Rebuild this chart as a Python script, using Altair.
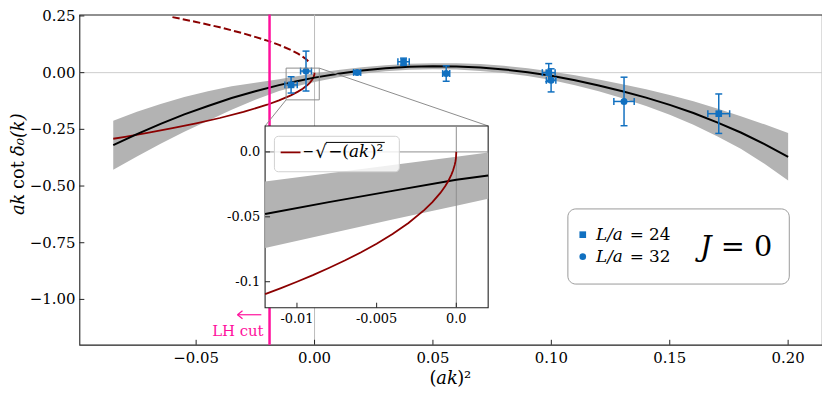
import altair as alt
import pandas as pd

# ---------------- data ----------------
# fit curve and its error band (main panel)
fit_x = [-0.085, -0.075, -0.065, -0.055, -0.045, -0.035, -0.025, -0.015, -0.0075, 0.0,
         0.01, 0.02, 0.03, 0.04, 0.05, 0.06, 0.07, 0.08, 0.09, 0.1,
         0.11, 0.12, 0.13, 0.14, 0.15, 0.16, 0.17, 0.18, 0.19, 0.2]
fit_y = [-0.320, -0.271, -0.226, -0.184, -0.147, -0.112, -0.082, -0.055, -0.0375, -0.022,
         -0.0046, 0.0093, 0.0193, 0.0258, 0.0285, 0.0274, 0.0227, 0.0143, 0.0022, -0.0136,
         -0.0332, -0.0563, -0.082, -0.110, -0.142, -0.178, -0.219, -0.264, -0.315, -0.371]
band_lo = [-0.428, -0.370, -0.314, -0.261, -0.212, -0.164, -0.120, -0.081, -0.0595, -0.041,
           -0.0206, -0.0047, 0.0063, 0.0128, 0.0155, 0.0134, 0.0077, -0.0017, -0.0148, -0.0326,
           -0.0552, -0.0823, -0.113, -0.147, -0.186, -0.230, -0.280, -0.336, -0.402, -0.476]
band_hi = [-0.212, -0.172, -0.138, -0.107, -0.082, -0.060, -0.044, -0.029, -0.0155, -0.003,
           0.0114, 0.0233, 0.0323, 0.0388, 0.0415, 0.0414, 0.0377, 0.0303, 0.0192, 0.0054,
           -0.0112, -0.0303, -0.051, -0.073, -0.098, -0.126, -0.158, -0.192, -0.228, -0.266]

# -sqrt(-(ak)^2) branch (solid) and +sqrt branch (dashed)
neg_x = [-0.085, -0.08, -0.07, -0.06, -0.05, -0.04, -0.03, -0.02, -0.015, -0.01,
         -0.007, -0.005, -0.003, -0.002, -0.001, -0.0005, -0.0002, -0.00005, 0.0]
neg_y = [-0.2915, -0.2828, -0.2646, -0.2449, -0.2236, -0.2, -0.1732, -0.1414, -0.1225, -0.1,
         -0.0837, -0.0707, -0.0548, -0.0447, -0.0316, -0.0224, -0.0141, -0.0071, 0.0]
pos_x = [-0.06, -0.05, -0.04, -0.03, -0.02, -0.015, -0.01, -0.007, -0.004, -0.0018]
pos_y = [0.2449, 0.2236, 0.2, 0.1732, 0.1414, 0.1225, 0.1, 0.0837, 0.0632, 0.0424]

# lattice points
pt_x = [-0.0099, -0.0036, 0.018, 0.0376, 0.0556, 0.0989, 0.0999, 0.1307, 0.1707]
pt_y = [-0.054, 0.007, 0.001, 0.048, -0.004, 0.0, -0.034, -0.127, -0.181]
pt_xerr = [0.0026, 0.0023, 0.0015, 0.0024, 0.0015, 0.0027, 0.002, 0.0043, 0.0046]
pt_yerr = [0.036, 0.088, 0.006, 0.016, 0.034, 0.040, 0.051, 0.107, 0.087]
pt_L = ["24", "32", "32", "24", "32", "24", "32", "32", "24"]

# inset panel
ins_x = [-0.012, -0.008, -0.004, 0.0, 0.002]
ins_fit = [-0.0479, -0.0387, -0.030, -0.0214, -0.0182]
ins_lo = [-0.074, -0.063, -0.052, -0.0415, -0.036]
ins_hi = [-0.0228, -0.0165, -0.0101, -0.0037, -0.0005]
ins_neg_x = [-0.012, -0.011, -0.01, -0.009, -0.008, -0.007, -0.006, -0.005, -0.004, -0.003,
             -0.002, -0.0015, -0.001, -0.0007, -0.0005, -0.0003, -0.0002, -0.0001, -0.00005,
             -0.00002, 0.0]
ins_neg_y = [-0.1095, -0.1049, -0.1, -0.0949, -0.0894, -0.0837, -0.0775, -0.0707, -0.0632, -0.0548,
             -0.0447, -0.0387, -0.0316, -0.0265, -0.0224, -0.0173, -0.0141, -0.01, -0.0071,
             -0.0045, 0.0]

lh_cut = -0.019
main_x_ticks = [-0.05, 0.0, 0.05, 0.10, 0.15, 0.20]
main_x_labels = ["−0.05", "0.00", "0.05", "0.10", "0.15", "0.20"]
main_y_ticks = [0.25, 0.0, -0.25, -0.5, -0.75, -1.0]
main_y_labels = ["0.25", "0.00", "−0.25", "−0.50", "−0.75", "−1.00"]
ins_x_ticks = [-0.01, -0.005, 0.0]
ins_x_labels = ["-0.01", "-0.005", "0.0"]
ins_y_ticks = [0.0, -0.05, -0.1]
ins_y_labels = ["0.0", "-0.05", "-0.1"]

# ---------------- styling / layout ----------------
BLUE = "#1170c0"
DARKRED = "#8b0000"
PINK = "#ff109c"
BAND = "#b3b3b3"
FONT = "DejaVu Serif"
W, H = 749, 333
PAD_TOP = 5


def vx(px):
    return px - 80


def vy(py):
    return (py - 5) * H / 341


xs = alt.Scale(domain=[-0.0993, 0.2143], nice=False, zero=False)
ys = alt.Scale(domain=[-1.2, 0.256], nice=False, zero=False)
IX0, IX1 = vx(267.3), vx(492.3)
IYB, IYT = vy(307.7), vy(120)
xi = alt.Scale(domain=[-0.012, 0.002], range=[IX0, IX1], nice=False, zero=False)
yi = alt.Scale(domain=[-0.12, 0.02], range=[IYB, IYT], nice=False, zero=False)

one = pd.DataFrame({"k": [0]})
fit_df = pd.DataFrame({"x": fit_x, "y": fit_y, "lo": band_lo, "hi": band_hi})
neg_df = pd.DataFrame({"x": neg_x, "y": neg_y})
pos_df = pd.DataFrame({"x": pos_x, "y": pos_y})
pts = pd.DataFrame({"x": pt_x, "y": pt_y, "xe": pt_xerr, "ye": pt_yerr, "L": pt_L})
pts["x_lo"] = pts["x"] - pts["xe"]
pts["x_hi"] = pts["x"] + pts["xe"]
pts["y_lo"] = pts["y"] - pts["ye"]
pts["y_hi"] = pts["y"] + pts["ye"]
ins_df = pd.DataFrame({"x": ins_x, "y": ins_fit, "lo": ins_lo, "hi": ins_hi})
ins_neg_df = pd.DataFrame({"x": ins_neg_x, "y": ins_neg_y})
mxt = pd.DataFrame({"t": main_x_ticks, "lab": main_x_labels})
myt = pd.DataFrame({"t": main_y_ticks, "lab": main_y_labels})
ixt = pd.DataFrame({"t": ins_x_ticks, "lab": ins_x_labels})
iyt = pd.DataFrame({"t": ins_y_ticks, "lab": ins_y_labels})


def MX(f):
    return alt.X(f, type="quantitative", scale=xs, axis=None)


def MY(f):
    return alt.Y(f, type="quantitative", scale=ys, axis=None)


def IX(f):
    return alt.X(f, type="quantitative", scale=xi, axis=None)


def IY(f):
    return alt.Y(f, type="quantitative", scale=yi, axis=None)


def MXD(v):
    return alt.XDatum(v, type="quantitative", scale=xs, axis=None)


def MYD(v):
    return alt.YDatum(v, type="quantitative", scale=ys, axis=None)


def IXD(v):
    return alt.XDatum(v, type="quantitative", scale=xi, axis=None)


def IYD(v):
    return alt.YDatum(v, type="quantitative", scale=yi, axis=None)


def txt(s, px, py, size, style="normal", color="black", align="left", angle=0):
    return alt.Chart(one).mark_text(text=s, font=FONT, fontSize=size, fontStyle=style, color=color,
                                    align=align, baseline="middle", angle=angle).encode(
        x=alt.value(vx(px)), y=alt.value(vy(py)))


# ---------------- main panel ----------------
zero_v = alt.Chart(one).mark_rule(color="#bbbbbb", strokeWidth=1).encode(x=MXD(0))
zero_h = alt.Chart(one).mark_rule(color="#cccccc", strokeWidth=1).encode(y=MYD(0))
band = alt.Chart(fit_df).mark_area(color=BAND, opacity=1).encode(x=MX("x"), y=MY("lo"), y2="hi:Q")
red_solid = alt.Chart(neg_df).mark_line(color=DARKRED, strokeWidth=1.8).encode(x=MX("x"), y=MY("y"))
fit_line = alt.Chart(fit_df).mark_line(color="black", strokeWidth=2).encode(x=MX("x"), y=MY("y"))
red_dash = alt.Chart(pos_df).mark_line(color=DARKRED, strokeWidth=2, strokeDash=[7.4, 3.2],
                                       clip=True).encode(x=MX("x"), y=MY("y"))
pink = alt.Chart(one).mark_rule(color=PINK, strokeWidth=2.5).encode(x=MXD(lh_cut))
vbar = alt.Chart(pts).mark_rule(color=BLUE, strokeWidth=1.5).encode(x=MX("x"), y=MY("y_lo"), y2="y_hi")
hbar = alt.Chart(pts).mark_rule(color=BLUE, strokeWidth=1.5).encode(x=MX("x_lo"), x2="x_hi", y=MY("y"))
cap_lo = alt.Chart(pts).mark_tick(color=BLUE, orient="horizontal", size=7, thickness=1.5, opacity=1).encode(
    x=MX("x"), y=MY("y_lo"))
cap_hi = alt.Chart(pts).mark_tick(color=BLUE, orient="horizontal", size=7, thickness=1.5, opacity=1).encode(
    x=MX("x"), y=MY("y_hi"))
cap_l = alt.Chart(pts).mark_tick(color=BLUE, orient="vertical", size=7, thickness=1.5, opacity=1).encode(
    x=MX("x_lo"), y=MY("y"))
cap_r = alt.Chart(pts).mark_tick(color=BLUE, orient="vertical", size=7, thickness=1.5, opacity=1).encode(
    x=MX("x_hi"), y=MY("y"))
points = alt.Chart(pts).mark_point(filled=True, opacity=1, color=BLUE).encode(
    x=MX("x"), y=MY("y"),
    shape=alt.Shape("L:N", scale=alt.Scale(domain=["24", "32"], range=["square", "circle"]), legend=None),
    size=alt.Size("L:N", scale=alt.Scale(domain=["24", "32"], range=[45, 50]), legend=None))
zoom_rect = alt.Chart(one).mark_rect(fillOpacity=0, stroke="#8c8c8c", strokeWidth=1).encode(
    x=MXD(-0.012), x2=alt.X2Datum(0.002), y=MYD(-0.12), y2=alt.Y2Datum(0.02))
conn1 = alt.Chart(one).mark_rule(color="#8c8c8c", strokeWidth=1).encode(
    x=MXD(-0.012), y=MYD(-0.12), x2=alt.value(IX0), y2=alt.value(IYT))
conn2 = alt.Chart(one).mark_rule(color="#8c8c8c", strokeWidth=1).encode(
    x=MXD(0.002), y=MYD(0.02), x2=alt.value(IX1), y2=alt.value(IYT))
tick_mx = alt.Chart(mxt).mark_rule(color="#222", strokeWidth=1).encode(
    x=MX("t"), y=alt.value(H), y2=alt.value(H - 5))
tick_my = alt.Chart(myt).mark_rule(color="#222", strokeWidth=1).encode(
    y=MY("t"), x=alt.value(0), x2=alt.value(5))
lab_mx = alt.Chart(mxt).mark_text(font=FONT, fontSize=15, color="black", align="center",
                                  baseline="middle").encode(
    x=MX("t"), y=alt.value(H + 13), text="lab:N")
lab_my = alt.Chart(myt).mark_text(font=FONT, fontSize=15, color="black", align="right",
                                  baseline="middle").encode(
    y=MY("t"), x=alt.value(-4), text="lab:N")
lh_text = alt.Chart(one).mark_text(text="LH cut", align="right", baseline="middle", color=PINK,
                                   font=FONT, fontSize=15, dx=-6).encode(
    x=MXD(lh_cut), y=alt.value(vy(331.7)))
ay = vy(315)
arrow = alt.Chart(one).mark_rule(color=PINK, strokeWidth=1.2).encode(
    x=alt.value(vx(239.5)), x2=alt.value(vx(263.5)), y=alt.value(ay))
arrow_h1 = alt.Chart(one).mark_rule(color=PINK, strokeWidth=1.2).encode(
    x=alt.value(vx(239.5)), x2=alt.value(vx(244.5)), y=alt.value(ay), y2=alt.value(ay - 4))
arrow_h2 = alt.Chart(one).mark_rule(color=PINK, strokeWidth=1.2).encode(
    x=alt.value(vx(239.5)), x2=alt.value(vx(244.5)), y=alt.value(ay), y2=alt.value(ay + 4))

# axis titles
xt1 = txt("(", 433, 381.7, 18)
xt2 = txt("ak", 440, 381.7, 18, "italic")
xt3 = txt(")²", 461, 381.7, 18)
yt1 = txt("ak", 19, 212, 18, "italic", angle=270)
yt2 = txt("cot", 19, 185, 18, angle=270)
yt3 = txt("δ₀(k)", 19, 151, 18, "italic", angle=270)

# legend box (main)
leg_box = alt.Chart(one).mark_rect(fill="white", stroke="#999999", strokeWidth=1, cornerRadius=8).encode(
    x=alt.value(vx(572.7)), x2=alt.value(vx(796)), y=alt.value(vy(205.7)), y2=alt.value(vy(283.3)))
leg_sq = alt.Chart(one).mark_point(shape="square", filled=True, size=45, color=BLUE, opacity=1).encode(
    x=alt.value(vx(587.7)), y=alt.value(vy(232.3)))
leg_ci = alt.Chart(one).mark_point(shape="circle", filled=True, size=45, color=BLUE, opacity=1).encode(
    x=alt.value(vx(587.7)), y=alt.value(vy(255)))
leg_t1a = txt("L/a", 601, 232.3, 17, "italic")
leg_t1b = txt("= 24", 635, 232.3, 17)
leg_t2a = txt("L/a", 601, 255, 17, "italic")
leg_t2b = txt("= 32", 635, 255, 17)
leg_J = txt("J", 706, 245, 29, "italic")
leg_J0 = txt("= 0", 727, 245, 29)

main = alt.layer(zero_v, zero_h, band, red_solid, fit_line, red_dash, pink,
                 vbar, hbar, cap_lo, cap_hi, cap_l, cap_r, points,
                 zoom_rect, conn1, conn2, tick_mx, tick_my, lab_mx, lab_my,
                 lh_text, arrow, arrow_h1, arrow_h2, xt1, xt2, xt3, yt1, yt2, yt3,
                 leg_box, leg_sq, leg_ci, leg_t1a, leg_t1b, leg_t2a, leg_t2b, leg_J, leg_J0)

# ---------------- inset panel ----------------
frame = alt.Chart(one).mark_rect(fill="white", stroke="#222", strokeWidth=1.1).encode(
    x=IXD(-0.012), x2=alt.X2Datum(0.002), y=IYD(-0.12), y2=alt.Y2Datum(0.02))
i_band = alt.Chart(ins_df).mark_area(color=BAND, opacity=1).encode(x=IX("x"), y=IY("lo"), y2="hi:Q")
i_zv = alt.Chart(one).mark_rule(color="#8f8f8f", strokeWidth=1).encode(
    x=IXD(0), y=IYD(-0.12), y2=alt.Y2Datum(0.02))
i_zh = alt.Chart(one).mark_rule(color="#8f8f8f", strokeWidth=1).encode(
    y=IYD(0), x=IXD(-0.012), x2=alt.X2Datum(0.002))
i_fit = alt.Chart(ins_df).mark_line(color="black", strokeWidth=2).encode(x=IX("x"), y=IY("y"))
i_neg = alt.Chart(ins_neg_df).mark_line(color=DARKRED, strokeWidth=1.8).encode(x=IX("x"), y=IY("y"))
i_tx = alt.Chart(ixt).mark_rule(color="#222", strokeWidth=1).encode(
    x=IX("t"), y=alt.value(IYB), y2=alt.value(IYB - 5))
i_ty = alt.Chart(iyt).mark_rule(color="#222", strokeWidth=1).encode(
    y=IY("t"), x=alt.value(IX0), x2=alt.value(IX0 + 5))
i_lx = alt.Chart(ixt).mark_text(font=FONT, fontSize=13, color="black", align="center",
                                baseline="middle").encode(
    x=IX("t"), y=alt.value(IYB + 11), text="lab:N")
i_ly = alt.Chart(iyt).mark_text(font=FONT, fontSize=13, color="black", align="right",
                                baseline="middle").encode(
    y=IY("t"), x=alt.value(IX0 - 5), text="lab:N")
i_leg_box = alt.Chart(one).mark_rect(fill="white", fillOpacity=0.8, stroke="#d0d0d0", strokeWidth=1,
                                     cornerRadius=4).encode(
    x=alt.value(vx(276.7)), x2=alt.value(vx(402.7)), y=alt.value(vy(130.7)), y2=alt.value(vy(167.3)))
i_leg_line = alt.Chart(one).mark_rule(color=DARKRED, strokeWidth=1.8).encode(
    x=alt.value(vx(283)), x2=alt.value(vx(303)), y=alt.value(vy(147.3)))
i_t1 = txt("−", 305, 147.3, 14)
i_t2 = txt("√", 318, 148.5, 18)
i_vin = alt.Chart(one).mark_rule(color="black", strokeWidth=1).encode(
    x=alt.value(vx(328.5)), x2=alt.value(vx(388)), y=alt.value(vy(137)))
i_t3 = txt("−(", 331, 147.3, 17)
i_t4 = txt("ak", 352, 147.3, 17, "italic")
i_t5 = txt(")²", 373, 147.3, 17)

inset = alt.layer(frame, i_band, i_zv, i_zh, i_fit, i_neg, i_tx, i_ty, i_lx, i_ly,
                  i_leg_box, i_leg_line, i_t1, i_t2, i_vin, i_t3, i_t4, i_t5)

chart = alt.layer(main, inset).resolve_scale(x="independent", y="independent").properties(
    width=W, height=H,
    autosize=alt.AutoSizeParams(type="none"),
    padding={"left": 72, "top": PAD_TOP, "right": 0, "bottom": 48},
    background="white",
).configure_view(stroke="#222", strokeWidth=1.1)

chart.save("out.html", embed_options={"renderer": "svg", "actions": False})
